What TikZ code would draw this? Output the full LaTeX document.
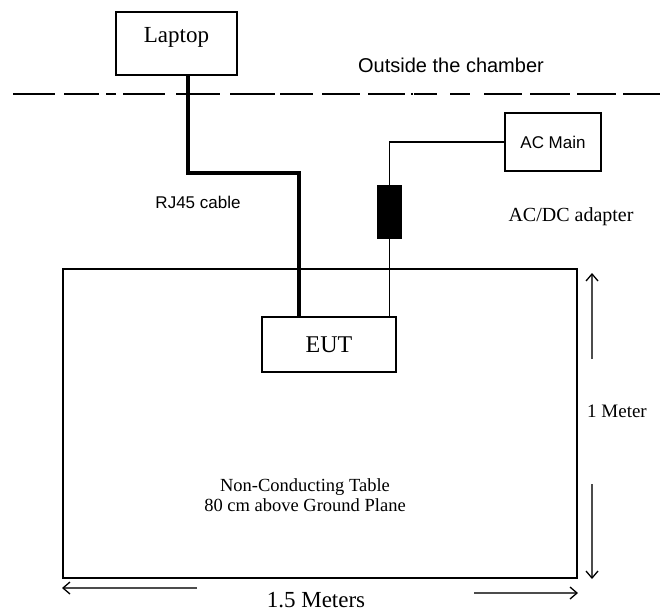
\documentclass[tikz,border=0pt]{standalone}
\usepackage{fontspec}
\setmainfont{Liberation Serif}
\setsansfont{Liberation Sans}
\usepackage{tikz}
\usetikzlibrary{arrows.meta}
\tikzstyle{box}=[draw, rectangle, inner sep=0pt, line width=1.3pt]
\tikzstyle{lbl}=[inner sep=0pt]
\tikzstyle{dim}=[line width=1.3pt, draw=black!70, -{Straight Barb[length=7pt,width=12pt,black]}]
\newcommand{\boxnode}{\node[box]}
\newcommand{\fsz}[1]{\fontsize{#1}{#1}\selectfont}

\begin{document}
\begin{tikzpicture}[x=1pt,y=-1pt]
	\useasboundingbox (0,0) rectangle (660,614);
	\node[box, line width=2pt, minimum width=514, minimum height=309] (table) at (320,423.5) {};
	\boxnode (laptop) at (176.5,43.5)[minimum width=121, minimum height=63, text height=15pt, text depth=17pt, font=\fsz{23}] {Laptop};
	\boxnode (eut) at (329,344.5)[minimum width=134, minimum height=55, font=\fsz{24}] {EUT};
	\boxnode (acmain) at (553,142)[minimum width=96, minimum height=58, font=\sffamily\fsz{17}] {AC Main};
	\boxnode (adapter) at (389.5,212)[fill=black, minimum width=23, minimum height=52] {};

	\node[lbl, font=\sffamily\fsz{20}] (outside) at (451,65) {Outside the chamber};
	\node[lbl, font=\sffamily\fsz{17}] (rj45) at (198,202) {RJ45 cable};
	\node[lbl, font=\fsz{20}] (acdc) at (571,217) {AC/DC adapter};
	\node[lbl, align=center, font=\fontsize{18.5}{20}\selectfont] (tabletext) at (305,495) {Non-Conducting Table\\80 cm above Ground Plane};
	\node[lbl, font=\fsz{19}] (onem) at (617,411) {1 Meter};
	\node[lbl, font=\fsz{23}] (onefive) at (316,600) {1.5 Meters};

	% chamber wall
	\foreach \a/\b in {13/55,64/99,106/116,123/165,176/220,230/275,280/313,322/360,368/405,411/413,414/437,450/470,484/522,530/570,577/616,623/660}
		\draw[line width=1.5pt] (\a,94) -- (\b,94);

	% cables
	\coordinate (bend) at (299,173);
	\draw[line width=3.3pt] ([xshift=11.5pt]laptop.south) |- (bend) -- (bend |- eut.north);
	\draw[line width=1.3pt] (acmain.west) -| (adapter.north);
	\draw[line width=1.3pt] (adapter.south) -- (adapter.south |- eut.north);

	% dimensions
	\coordinate (hup) at (592,359);
	\coordinate (htop) at (592,273);
	\coordinate (hdown) at (592,484);
	\coordinate (hbot) at (592,579);
	\coordinate (wleft) at (197,588);
	\coordinate (wltip) at (62,588);
	\coordinate (wright) at (474,593);
	\coordinate (wrtip) at (578,593);
	\draw[dim] (hup) -- (htop);
	\draw[dim] (hdown) -- (hbot);
	\draw[dim] (wleft) -- (wltip);
	\draw[dim] (wright) -- (wrtip);
\end{tikzpicture}
\end{document}
